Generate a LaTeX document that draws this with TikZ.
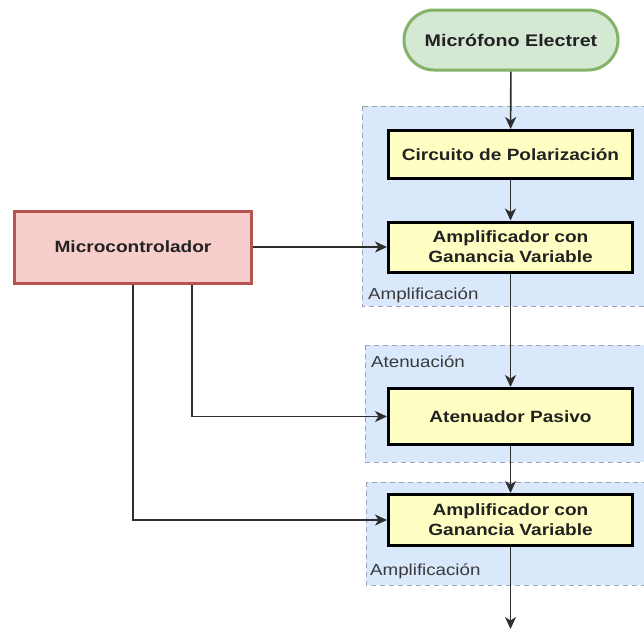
\documentclass[tikz,border=0pt]{standalone}
\usepackage{fontspec}
\setmainfont{Liberation Sans}[FakeStretch=1.17]
\usetikzlibrary{arrows.meta,positioning}
\definecolor{blockfill}{HTML}{FFFFC4}
\definecolor{groupfill}{HTML}{DAE8FC}
\definecolor{groupline}{HTML}{9AA6B4}
\definecolor{mcufill}{HTML}{F8CECC}
\definecolor{mculine}{HTML}{B85450}
\definecolor{micfill}{HTML}{D5E8D4}
\definecolor{micline}{HTML}{82B366}
\definecolor{wire}{HTML}{2E2E2E}
\definecolor{txt}{HTML}{222222}
\definecolor{lbl}{HTML}{3A3A3A}
\tikzset{
  stagebox/.style={draw=black, line width=3pt, fill=blockfill, minimum width=244pt,
    align=center, text=txt, font=\bfseries\fontsize{16.3}{20}\selectfont, inner sep=0pt},
  groupbox/.style={fill=groupfill, draw=groupline, dashed, line width=0.9pt,
    dash pattern=on 5pt off 4pt},
  grouplabel/.style={anchor=west, text=lbl, font=\fontsize{16}{19}\selectfont, inner sep=0pt},
  sig/.style={draw=wire, line width=1.6pt, -{Stealth[length=12pt,width=11pt,inset=3.5pt]}},
  plain/.style={draw=wire, line width=1.6pt}
}
\begin{document}
\begin{tikzpicture}[x=1pt,y=1pt]
  \useasboundingbox (0,0) rectangle (644,-630);
  \clip (0,0) rectangle (644,-630);
  \fill[white] (0,0) rectangle (644,-630);

  % processing groups
  \path[groupbox] (362,-106) rectangle (660,-306);
  \path[groupbox] (365,-345) rectangle (660,-462);
  \path[groupbox] (366,-482) rectangle (660,-585);
  \node[grouplabel] (lblA) at (368,-295) {Amplificación};
  \node[grouplabel] (lblB) at (371,-362) {Atenuación};
  \node[grouplabel] (lblC) at (370,-571) {Amplificación};

  % source
  \node[draw=micline, fill=micfill, line width=3pt, rounded corners=30pt,
        minimum width=214pt, minimum height=60pt, text=txt,
        font=\bfseries\fontsize{16.8}{20}\selectfont] (mic) at (511,-40) {Micrófono Electret};

  % signal chain
  \node[stagebox, minimum height=48pt] (bias) at (510.5,-154.5) {Circuito de Polarización};
  \node[stagebox, minimum height=50pt] (amp1) at (510.5,-247) {Amplificador con\\Ganancia Variable};
  \node[stagebox, minimum height=56pt] (att) at (510.5,-416.5) {Atenuador Pasivo};
  \node[stagebox, minimum height=51pt] (amp2) at (510.5,-520) {Amplificador con\\Ganancia Variable};
  \coordinate (out) at (510.5,-629);

  % controller
  \node[draw=mculine, fill=mcufill, line width=3pt, minimum width=237pt,
        minimum height=72pt, text=txt,
        font=\bfseries\fontsize{16.3}{20}\selectfont] (mcu) at (133,-247) {Microcontrolador};

  % connections
  \draw[sig] (mic) -- (bias);
  \draw[sig] (bias) -- (amp1);
  \draw[sig] (amp1) -- (att);
  \draw[sig] (att) -- (amp2);
  \draw[sig] (amp2) -- (out);
  \draw[sig] (mcu.east) -- (amp1.west);
  \draw[sig] ([xshift=59pt]mcu.south) |- (att.west);
  \draw[sig] (mcu.south) |- (amp2.west);
\end{tikzpicture}
\end{document}
